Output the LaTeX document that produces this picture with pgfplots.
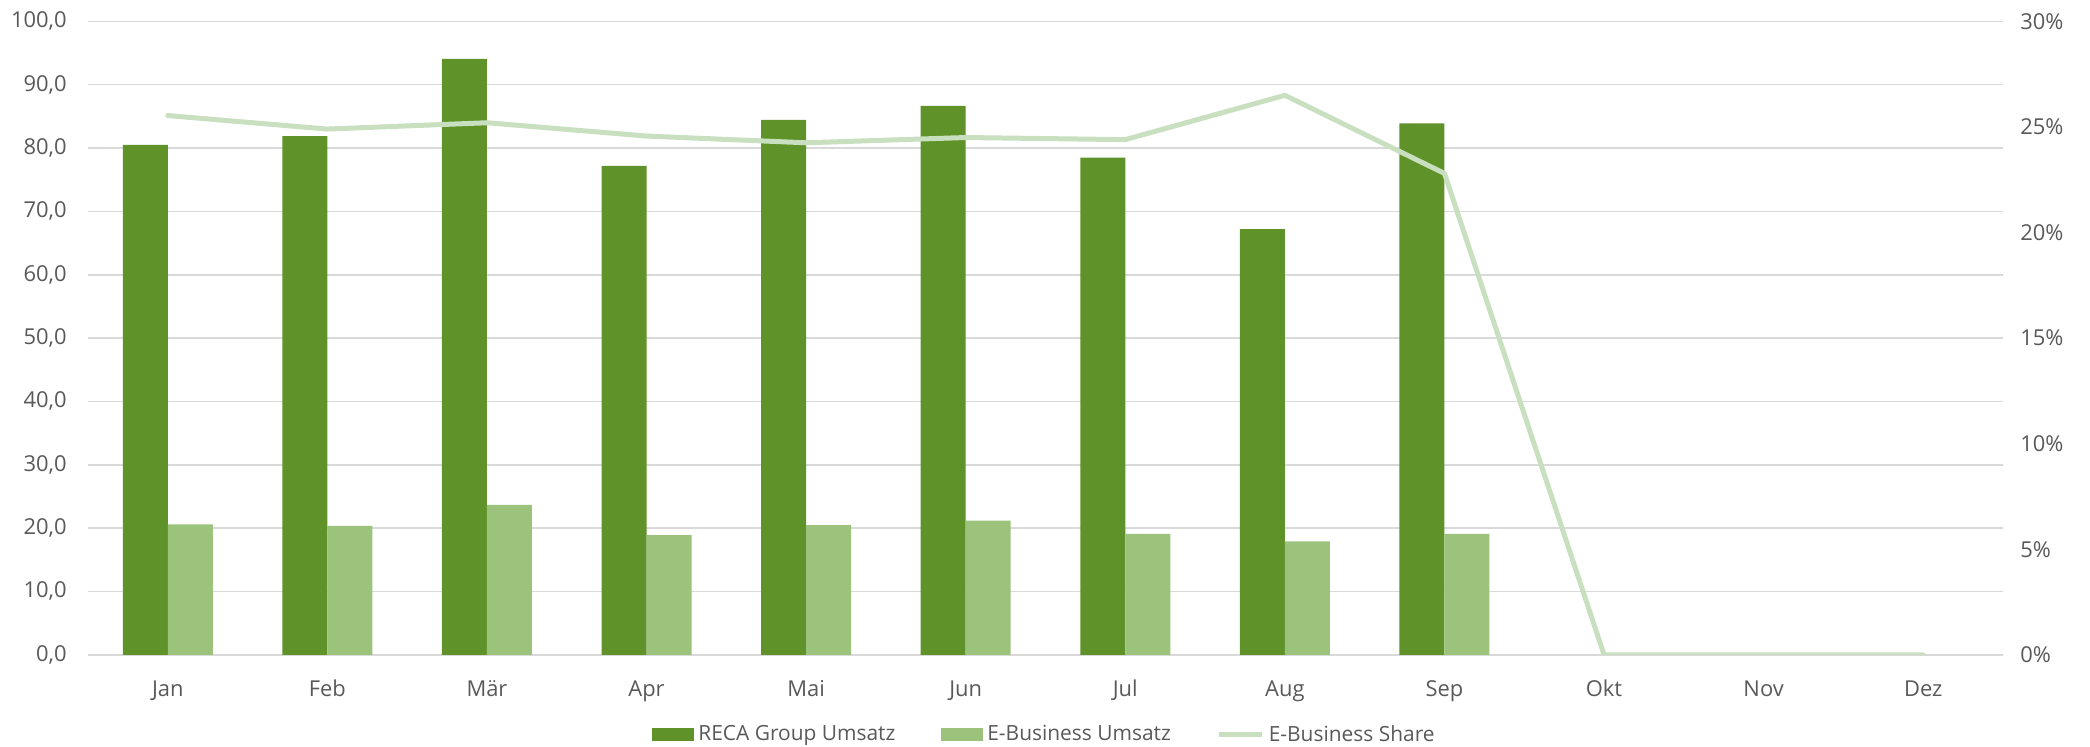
\documentclass[border=0pt]{standalone}
\usepackage{pgfplots}
\pgfplotsset{compat=1.18}
\usepackage{fontspec}
\setmainfont{Open Sans}
\definecolor{dkgreen}{HTML}{5F9228}
\definecolor{ltgreen}{HTML}{9BC37B}
\definecolor{linegreen}{HTML}{C8DFC0}
\definecolor{txt}{HTML}{595959}
\definecolor{gridc}{HTML}{D9D9D9}
\pgfplotsset{
  barleg/.style={legend image code/.code={\fill[##1] (0bp,-3.25bp) rectangle (21bp,3.25bp);}},
  lineleg/.style={legend image code/.code={\draw[##1] (0bp,0bp) -- (21.5bp,0bp);}},
  common/.style={
    width=957.5bp, height=316.7bp, scale only axis,
    xmin=-0.5, xmax=11.5,
    axis line style={draw=none},
    major tick length=0pt, tick style={draw=none},
    ticklabel style={font=\fontsize{11}{13}\selectfont, text=txt},
    /pgf/number format/assume math mode=true,
  }
}
\begin{document}
\begin{tikzpicture}
\begin{axis}[common,
  ymin=0, ymax=100, ytick={0,10,...,100},
  ymajorgrids, grid style={gridc, line width=0.75bp},
  xtick={0,...,11},
  xticklabels={Jan,Feb,Mär,Apr,Mai,Jun,Jul,Aug,Sep,Okt,Nov,Dez},
  yticklabel style={anchor=east, inner sep=0pt, xshift=-10.5bp,
    /pgf/number format/.cd, fixed, fixed zerofill, precision=1, use comma, 1000 sep={}, /tikz/.cd},
  xticklabel style={anchor=base, inner sep=0pt, yshift=-20.7bp},
  ybar=0pt, bar width=22.5bp,
  legend columns=3,
  legend style={at={(0.5,-0.1263)}, anchor=center, draw=none, fill=none,
    font=\fontsize{10.5}{12.5}\selectfont, text=txt, inner sep=0pt,
    /tikz/every even column/.append style={column sep=21bp}},
  legend cell align=left,
]
\addplot[fill=dkgreen, draw=none, barleg]
  coordinates {(0,80.5) (1,81.9) (2,94.1) (3,77.2) (4,84.45) (5,86.65) (6,78.5) (7,67.2) (8,83.9)};
\addlegendentry{RECA Group Umsatz}
\addplot[fill=ltgreen, draw=none, barleg]
  coordinates {(0,20.58) (1,20.37) (2,23.67) (3,18.9) (4,20.47) (5,21.2) (6,19.1) (7,17.9) (8,19.1)};
\addlegendentry{E-Business Umsatz}
\addlegendimage{draw=linegreen, line width=2.5bp, lineleg}
\addlegendentry{E-Business Share}
\end{axis}
\begin{axis}[common,
  ymin=0, ymax=30, ytick={0,5,...,30},
  axis y line*=right, axis x line=none,
  yticklabel={\pgfmathprintnumber{\tick}\%},
  yticklabel style={anchor=west, inner sep=0pt, xshift=8.5bp},
]
\addplot[draw=linegreen, line width=2.5bp, line cap=round, line join=round, mark=none]
  coordinates {(0,25.54) (1,24.9) (2,25.2) (3,24.57) (4,24.25) (5,24.5) (6,24.4) (7,26.5) (8,22.8) (9,0) (10,0) (11,0)};
\end{axis}
\pgfresetboundingbox
\path[use as bounding box] (-44bp,-46.1bp) rectangle (1001bp,327.4bp);
\end{tikzpicture}
\end{document}
